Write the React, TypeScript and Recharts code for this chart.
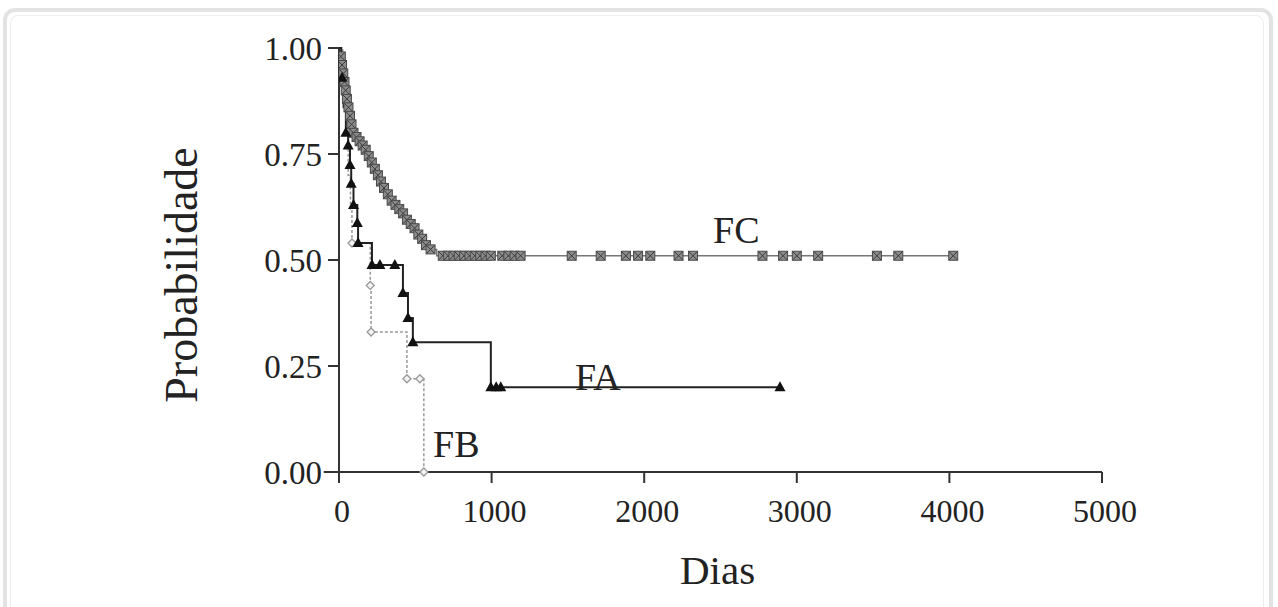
import React from 'react';
import { ComposedChart, Line, Scatter, XAxis, YAxis, ReferenceLine } from 'recharts';

// Kaplan-Meier steps: [dias, probabilidade]
const fcSteps = [
  [0, 1.0], [12, 0.98], [20, 0.96], [28, 0.94], [36, 0.92], [44, 0.9], [52, 0.88], [62, 0.86],
  [72, 0.84], [82, 0.82], [95, 0.8], [115, 0.79], [135, 0.78], [155, 0.77], [175, 0.76],
  [195, 0.745], [215, 0.73], [235, 0.715], [255, 0.7], [275, 0.685], [295, 0.67], [320, 0.655],
  [345, 0.64], [370, 0.63], [395, 0.62], [420, 0.61], [445, 0.595], [470, 0.585], [495, 0.575],
  [520, 0.56], [545, 0.55], [570, 0.535], [600, 0.525], [640, 0.51], [4030, 0.51],
];
const fcCensored = [
  680, 715, 750, 785, 820, 855, 890, 925, 960, 995, 1070, 1110, 1150, 1190, 1525, 1715,
  1880, 1960, 2040, 2225, 2320, 2775, 2910, 3000, 3140, 3525, 3665, 4025,
];

const faSteps = [
  [0, 1.0], [15, 0.93], [30, 0.86], [45, 0.8], [60, 0.77], [72, 0.724], [80, 0.68], [95, 0.63],
  [120, 0.587], [125, 0.54], [216, 0.488], [419, 0.422], [452, 0.363], [484, 0.306], [995, 0.2],
  [2890, 0.2],
];
const faMarks = [
  [20, 0.93], [45, 0.8], [60, 0.77], [72, 0.724], [80, 0.68], [95, 0.63], [120, 0.587],
  [125, 0.54], [216, 0.488], [268, 0.488], [366, 0.488], [419, 0.422], [452, 0.363], [484, 0.306],
  [995, 0.2], [1030, 0.2], [1060, 0.2], [2890, 0.2],
];

const fbSteps = [
  [0, 1.0], [25, 0.9], [45, 0.8], [60, 0.7], [75, 0.62], [85, 0.54], [205, 0.44], [210, 0.33],
  [445, 0.22], [556, 0.0],
];
const fbMarks = [[85, 0.54], [205, 0.44], [210, 0.33], [445, 0.22], [530, 0.22], [556, 0.0]];

const xTicks = [0, 1000, 2000, 3000, 4000, 5000];
const yTicks = [0, 0.25, 0.5, 0.75, 1];

const toRows = (pts: number[][]) => pts.map(([day, s]) => ({ day, s }));
const fcLine = toRows(fcSteps);
const fcMarks = [
  ...fcSteps.slice(1, 33).map(([day, s]) => ({ day, s })),
  ...fcCensored.map((day) => ({ day, s: 0.51 })),
];
const faLine = toRows(faSteps);
const faDots = toRows(faMarks);
const fbLine = toRows(fbSteps);
const fbDots = toRows(fbMarks);

const serif = '"Liberation Serif", "Times New Roman", serif';

const SquareMark = (props: any) => {
  const { cx, cy } = props;
  return (
    <g>
      <rect x={cx - 4.5} y={cy - 4.5} width={9} height={9} fill="#8c8c8c" stroke="#4a4a4a" strokeWidth={1} />
      <path d={`M${cx - 4},${cy - 4}L${cx + 4},${cy + 4}M${cx + 4},${cy - 4}L${cx - 4},${cy + 4}`} stroke="#3a3a3a" strokeWidth={1} />
    </g>
  );
};

const TriMark = (props: any) => {
  const { cx, cy } = props;
  return <path d={`M${cx},${cy - 6}L${cx - 5.5},${cy + 4}L${cx + 5.5},${cy + 4}Z`} fill="#111" />;
};

const DiamondMark = (props: any) => {
  const { cx, cy } = props;
  return <path d={`M${cx},${cy - 4}L${cx + 4},${cy}L${cx},${cy + 4}L${cx - 4},${cy}Z`} fill="#f4f4f4" stroke="#999" strokeWidth={1.3} />;
};

const textStyle: React.CSSProperties = {
  position: 'absolute',
  fontFamily: serif,
  color: '#222',
  lineHeight: 1,
  whiteSpace: 'nowrap',
};

export default function App() {
  return (
    <div style={{ position: 'absolute', left: 0, top: 0, width: 1278, height: 607, background: '#fff', overflow: 'hidden' }}>
      <div style={{ position: 'absolute', left: 3, top: 8, width: 1262, height: 640, border: '4px solid #e3e3e3', borderRadius: 12 }} />
      <div style={{ position: 'absolute', left: 10, top: 15, width: 1252, height: 630, border: '1px solid #eeeeee', borderRadius: 8 }} />
      <div style={{ position: 'absolute', left: 0, top: 0 }}>
        <ComposedChart width={1278} height={607} margin={{ top: 48, right: 176, bottom: 75, left: 239 }}>
          <XAxis
            type="number"
            dataKey="day"
            domain={[0, 5000]}
            ticks={xTicks}
            allowDataOverflow
            height={60}
            axisLine={{ stroke: '#333', strokeWidth: 2 }}
            tickLine={{ stroke: '#333', strokeWidth: 2 }}
            tickSize={11}
            tick={{ fontFamily: serif, fontSize: 32, fill: '#222', dy: 14, dx: 3 }}
          />
          <YAxis
            type="number"
            dataKey="s"
            domain={[0, 1]}
            ticks={yTicks}
            width={100}
            axisLine={{ stroke: '#333', strokeWidth: 2 }}
            tickLine={{ stroke: '#333', strokeWidth: 2 }}
            tickSize={11}
            tickFormatter={(v: number) => v.toFixed(2)}
            tick={{ fontFamily: serif, fontSize: 33, fill: '#222', dx: -4 }}
          />
          <ReferenceLine segment={[{ x: -100, y: 0 }, { x: 0, y: 0 }]} stroke="#333" strokeWidth={2} ifOverflow="visible" />
          <ReferenceLine segment={[{ x: 0, y: 0 }, { x: 0, y: -0.025 }]} stroke="#333" strokeWidth={2} ifOverflow="visible" />
          <Line data={fbLine} dataKey="s" type="stepAfter" stroke="#9a9a9a" strokeWidth={1.5} strokeDasharray="3 2" dot={false} isAnimationActive={false} />
          <Line data={fcLine} dataKey="s" type="stepAfter" stroke="#777" strokeWidth={1.5} dot={false} isAnimationActive={false} />
          <Line data={faLine} dataKey="s" type="stepAfter" stroke="#222" strokeWidth={2} dot={false} isAnimationActive={false} />
          <Scatter data={fbDots} shape={DiamondMark} isAnimationActive={false} />
          <Scatter data={fcMarks} shape={SquareMark} isAnimationActive={false} />
          <Scatter data={faDots} shape={TriMark} isAnimationActive={false} />
        </ComposedChart>
      </div>
      <div style={{ ...textStyle, left: 713, top: 211, fontSize: 38 }}>FC</div>
      <div style={{ ...textStyle, left: 575, top: 358, fontSize: 38 }}>FA</div>
      <div style={{ ...textStyle, left: 433, top: 425, fontSize: 38 }}>FB</div>
      <div style={{ ...textStyle, left: 680, top: 550, fontSize: 41 }}>Dias</div>
      <div style={{ ...textStyle, left: 182, top: 275, fontSize: 46, transform: 'translate(-50%, -50%) rotate(-90deg)' }}>Probabilidade</div>
    </div>
  );
}
